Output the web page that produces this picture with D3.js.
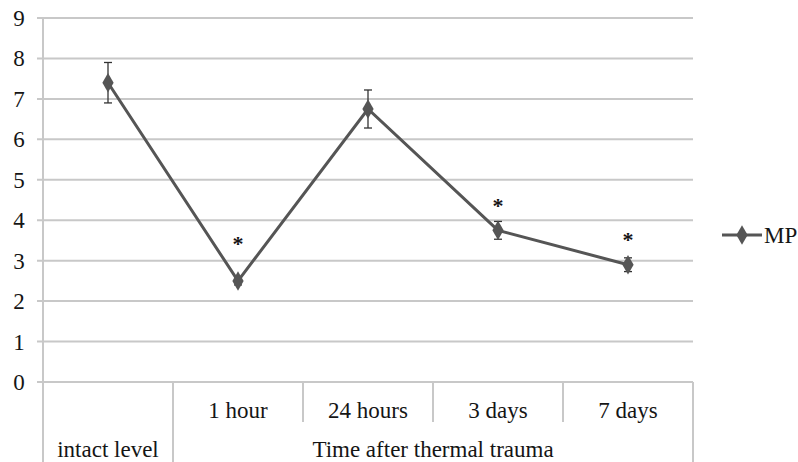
<!DOCTYPE html>
<html>
<head>
<meta charset="utf-8">
<script src="https://cdn.jsdelivr.net/npm/d3@7"></script>
<style>
  body { margin: 0; background: #fff; }
</style>
</head>
<body>
<svg id="chart" width="798" height="462"></svg>
<script>
// categories and MP values
var categories = ["intact level", "1 hour", "24 hours", "3 days", "7 days"];
var mpValues = [7.4, 2.5, 6.75, 3.75, 2.9];
var errValues = [0.5, 0.1, 0.47, 0.22, 0.17];
var starValues = [null, 3.5, null, 4.45, 3.6];   // where the "*" marks sit
var yTicks = [0, 1, 2, 3, 4, 5, 6, 7, 8, 9];
var groupLabel = "Time after thermal trauma";
var seriesName = "MP";

var svg = d3.select("#chart");
var plotLeft = 43, plotRight = 693, plotTop = 18, plotBottom = 382;
var fontSize = 23;
var serif = "Liberation Serif";

var x = d3.scaleBand().domain(categories).range([plotLeft, plotRight]);
var y = d3.scaleLinear().domain([0, 9]).range([plotBottom, plotTop]);

var lineColor = "#555";
var gridColor = "#c8c8c8";

// put font straight on every text node
function label(sel, size) {
    return sel.attr("font-family", serif)
        .style("font-family", serif)
        .attr("font-size", size || fontSize)
        .attr("fill", "#151515");
}

// gridlines
svg.append("g").selectAll("line")
    .data(yTicks).enter()
    .append("line")
    .attr("x1", plotLeft - 6).attr("x2", plotRight)
    .attr("y1", function (d) { return y(d); })
    .attr("y2", function (d) { return y(d); })
    .attr("stroke", gridColor).attr("stroke-width", 2);

// y axis line
svg.append("line")
    .attr("x1", plotLeft).attr("x2", plotLeft)
    .attr("y1", plotTop).attr("y2", 462)
    .attr("stroke", gridColor).attr("stroke-width", 2);

// y tick labels
label(svg.append("g").selectAll("text")
    .data(yTicks).enter()
    .append("text")
    .attr("x", 19).attr("y", function (d) { return y(d) + 8; })
    .attr("text-anchor", "middle"))
    .text(function (d) { return d; });

// category table lines
var bounds = categories.map(function (c) { return x(c) + x.bandwidth(); });
svg.append("g").selectAll("line")
    .data(bounds).enter()
    .append("line")
    .attr("x1", function (d) { return d; }).attr("x2", function (d) { return d; })
    .attr("y1", plotBottom)
    .attr("y2", function (d, i) { return (i === 0 || i === bounds.length - 1) ? 462 : 422; })
    .attr("stroke", gridColor).attr("stroke-width", 2);

// first row labels
label(svg.append("g").selectAll("text")
    .data(categories.slice(1)).enter()
    .append("text")
    .attr("x", function (d) { return x(d) + x.bandwidth() / 2; })
    .attr("y", 418)
    .attr("text-anchor", "middle"))
    .text(function (d) { return d; });

label(svg.append("text")
    .attr("x", x(categories[0]) + x.bandwidth() / 2)
    .attr("y", 457)
    .attr("text-anchor", "middle"))
    .text(categories[0]);

label(svg.append("text")
    .attr("x", (x(categories[1]) + plotRight) / 2)
    .attr("y", 457)
    .attr("text-anchor", "middle"))
    .text(groupLabel);

function cx(i) { return x(categories[i]) + x.bandwidth() / 2; }

// error bars
var eb = svg.append("g").attr("stroke", "#333").attr("stroke-width", 1.3);
mpValues.forEach(function (v, i) {
    var px = cx(i);
    var hi = y(v + errValues[i]), lo = y(v - errValues[i]);
    eb.append("line").attr("x1", px).attr("x2", px).attr("y1", hi).attr("y2", lo);
    eb.append("line").attr("x1", px - 4).attr("x2", px + 4).attr("y1", hi).attr("y2", hi);
    eb.append("line").attr("x1", px - 4).attr("x2", px + 4).attr("y1", lo).attr("y2", lo);
});

// series line
var line = d3.line()
    .x(function (d, i) { return cx(i); })
    .y(function (d) { return y(d); });

svg.append("path")
    .datum(mpValues)
    .attr("d", line)
    .attr("fill", "none")
    .attr("stroke", lineColor)
    .attr("stroke-width", 3);

// diamond markers
var diamond = d3.symbol().type(d3.symbolDiamond).size(110);
svg.append("g").selectAll("path")
    .data(mpValues).enter()
    .append("path")
    .attr("d", diamond)
    .attr("transform", function (d, i) { return "translate(" + cx(i) + "," + y(d) + ")"; })
    .attr("fill", lineColor);

// significance stars
var stars = starValues
    .map(function (v, i) { return { i: i, v: v }; })
    .filter(function (d) { return d.v !== null; });

label(svg.append("g").selectAll("text")
    .data(stars).enter()
    .append("text")
    .attr("x", function (d) { return cx(d.i); })
    .attr("y", function (d) { return y(d.v) + 11; })
    .attr("text-anchor", "middle"), 22)
    .attr("font-weight", "bold")
    .text("*");

// legend
var lg = svg.append("g").attr("transform", "translate(722,235)");
lg.append("line").attr("x1", 0).attr("x2", 40).attr("y1", 0).attr("y2", 0)
    .attr("stroke", lineColor).attr("stroke-width", 3);
lg.append("path").attr("d", diamond).attr("transform", "translate(20,0)").attr("fill", lineColor);
label(lg.append("text").attr("x", 42).attr("y", 8)).text(seriesName);
</script>
</body>
</html>
